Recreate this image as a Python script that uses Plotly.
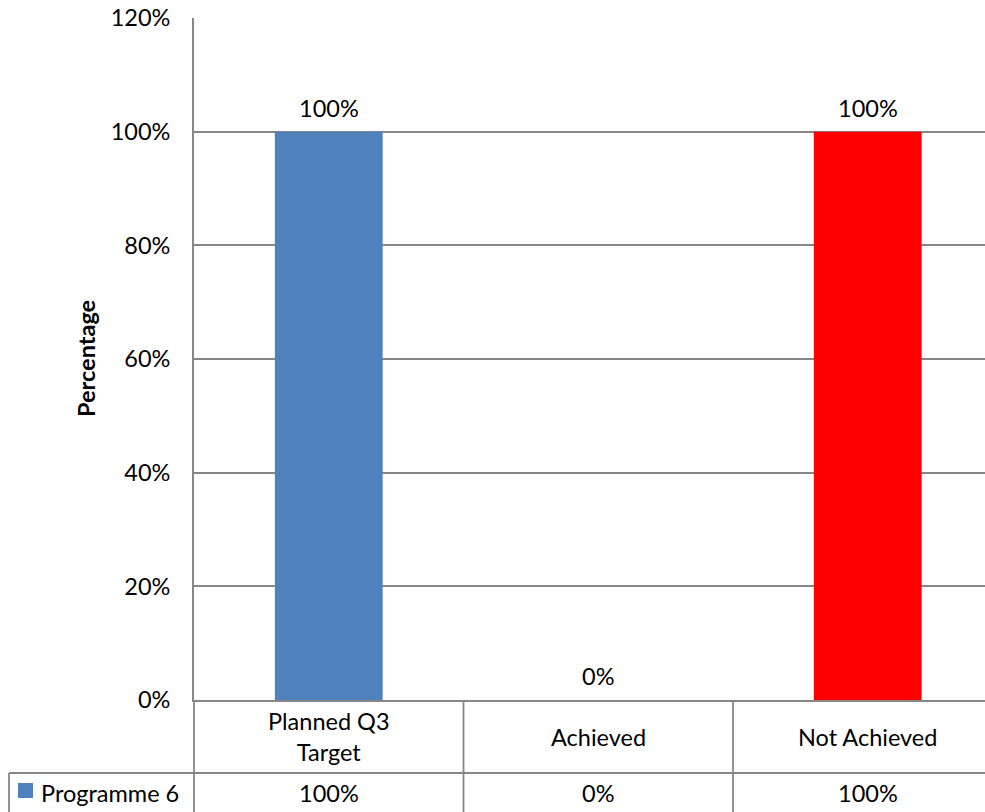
import plotly.graph_objects as go

categories = ["Planned Q3<br>Target", "Achieved", "Not Achieved"]
series_name = "Programme 6"
values = [1.0, 0.0, 1.0]
bar_colors = ["#4F81BD", "#4F81BD", "#FF0000"]
y_ticks = [0, 0.2, 0.4, 0.6, 0.8, 1.0, 1.2]

W, H = 985, 812
L, T, B = 194, 18, 112
plot_w = W - L
plot_h = H - T - B
cat_px = 269.5
x0 = -0.5
x1 = x0 + plot_w / cat_px

FONT = "Lato, sans-serif"
FS = 23.5
GRID = "#878787"

def px_x(p):
    return (p - L) / plot_w

def px_y(p):
    return (H - B - p) / plot_h

def data_x_paper(v):
    return (v - x0) / (x1 - x0)

xs = list(range(len(categories)))
fig = go.Figure()
fig.add_trace(go.Bar(
    x=xs, y=values, marker=dict(color=bar_colors, line=dict(width=0)),
    width=0.4, name=series_name, showlegend=False, hoverinfo="skip",
))

txt = dict(size=FS, color="#000000", family=FONT)
annotations = []
# data labels
for i, v in enumerate(values):
    annotations.append(dict(
        x=i, y=v, xref="x", yref="y", text=f"{v:.0%}", showarrow=False,
        yanchor="middle", yshift=24, font=txt))

# data table: category row
row1_top, row1_bot = 700, 773
row2_bot = 813
for i, c in enumerate(categories):
    annotations.append(dict(
        x=i, y=px_y((row1_top + row1_bot) / 2), xref="x", yref="paper", text=c,
        showarrow=False, yanchor="middle", align="center", font=txt))
    annotations.append(dict(
        x=i, y=px_y(793), xref="x", yref="paper", text=f"{values[i]:.0%}",
        showarrow=False, yanchor="middle", font=txt))

# series row label
annotations.append(dict(
    x=px_x(39), y=px_y(793), xref="paper", yref="paper", text=series_name,
    showarrow=False, xanchor="left", yanchor="middle", font=txt))

# y axis title
annotations.append(dict(
    x=px_x(86), y=px_y(359), xref="paper", yref="paper", text="<b>Percentage</b>",
    textangle=-90, showarrow=False, xanchor="center", yanchor="middle", font=txt))

shapes = []
lw = 1.8
shapes.append(dict(type="line", xref="paper", yref="paper",
                   x0=px_x(9), x1=px_x(W + 5), y0=px_y(row1_bot), y1=px_y(row1_bot),
                   line=dict(color=GRID, width=lw)))
for b in [-0.5, 0.5, 1.5]:
    xp = data_x_paper(b)
    shapes.append(dict(type="line", xref="paper", yref="paper",
                       x0=xp, x1=xp, y0=px_y(row1_top), y1=px_y(row2_bot),
                       line=dict(color=GRID, width=lw)))
shapes.append(dict(type="line", xref="paper", yref="paper",
                   x0=px_x(9), x1=px_x(9), y0=px_y(row1_bot), y1=px_y(row2_bot),
                   line=dict(color=GRID, width=lw)))
# legend key
shapes.append(dict(type="rect", xref="paper", yref="paper",
                   x0=px_x(18), x1=px_x(33), y0=px_y(798), y1=px_y(783),
                   fillcolor="#4F81BD", line=dict(width=0)))

fig.update_layout(
    width=W, height=H,
    margin=dict(l=L, r=0, t=T, b=B, pad=0),
    paper_bgcolor="white", plot_bgcolor="white",
    font=dict(family=FONT, size=FS, color="#000000"),
    annotations=annotations, shapes=shapes,
    xaxis=dict(range=[x0, x1], showticklabels=False, showgrid=False,
               zeroline=False, showline=True, linecolor=GRID, linewidth=lw,
               fixedrange=True),
    yaxis=dict(range=[0, 1.2], tickvals=y_ticks, tickformat=".0%",
               showgrid=True, gridcolor=GRID, gridwidth=lw,
               zeroline=False, showline=True, linecolor=GRID, linewidth=lw,
               ticks="", ticklabelstandoff=17,
               tickfont=txt, fixedrange=True),
)

fig.write_html("out.html", config={"displayModeBar": False})
